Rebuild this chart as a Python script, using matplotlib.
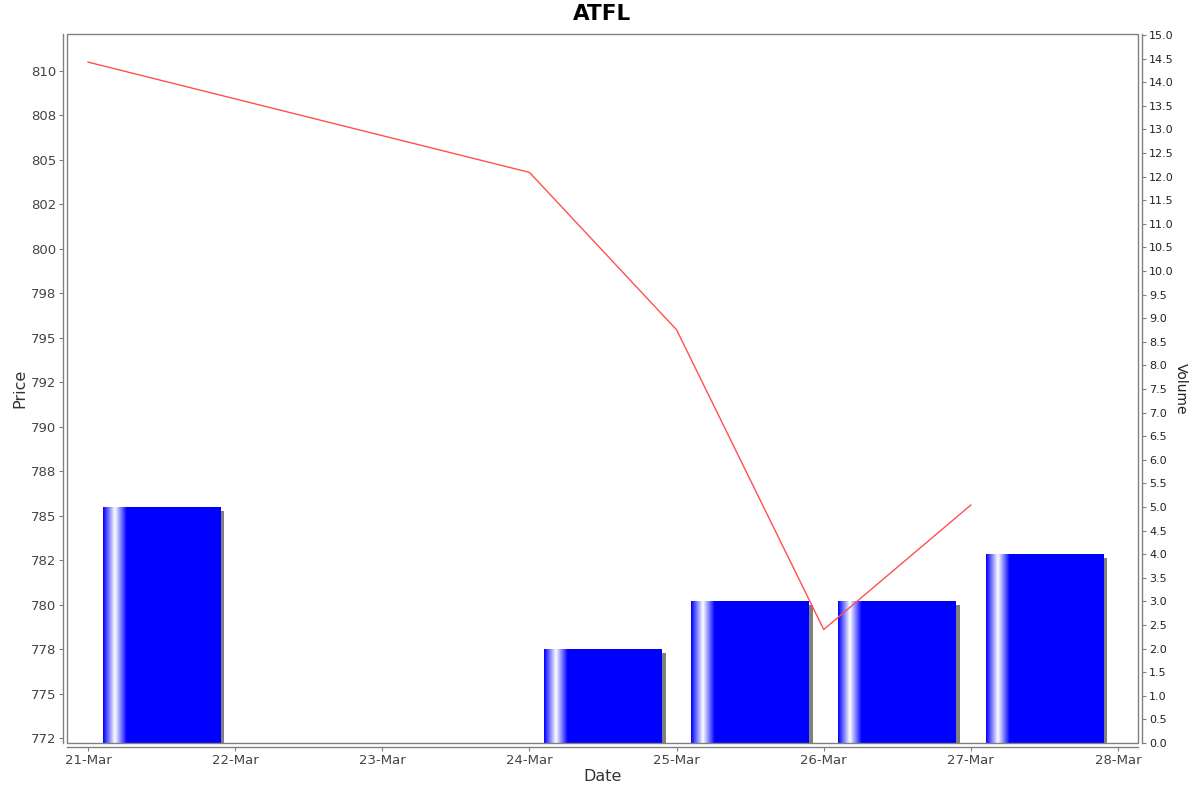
import datetime as dt

import matplotlib

matplotlib.use("Agg")

import matplotlib.dates as mdates
import matplotlib.pyplot as plt
import matplotlib.transforms as mtransforms
import numpy as np
from matplotlib.colors import LinearSegmentedColormap
from matplotlib.patches import Rectangle

TITLE = "ATFL"

price_dates = ["2024-03-21", "2024-03-24", "2024-03-25", "2024-03-26", "2024-03-27"]
prices = [810.5, 804.3, 795.45, 778.6, 785.6]

volume_dates = ["2024-03-21", "2024-03-24", "2024-03-25", "2024-03-26", "2024-03-27"]
volumes = [5, 2, 3, 3, 4]

price_ticks = [772.5, 775, 777.5, 780, 782.5, 785, 787.5, 790, 792.5, 795,
               797.5, 800, 802.5, 805, 807.5, 810]
price_tick_labels = ["772", "775", "778", "780", "782", "785", "788", "790",
                     "792", "795", "798", "800", "802", "805", "808", "810"]
volume_ticks = [0.0, 0.5, 1.0, 1.5, 2.0, 2.5, 3.0, 3.5, 4.0, 4.5, 5.0, 5.5,
                6.0, 6.5, 7.0, 7.5, 8.0, 8.5, 9.0, 9.5, 10.0, 10.5, 11.0,
                11.5, 12.0, 12.5, 13.0, 13.5, 14.0, 14.5, 15.0]
date_ticks = ["2024-03-21", "2024-03-22", "2024-03-23", "2024-03-24",
              "2024-03-25", "2024-03-26", "2024-03-27", "2024-03-28"]


def to_num(days):
    return [mdates.date2num(dt.datetime.strptime(d, "%Y-%m-%d")) for d in days]


GREY = "#808080"
TICK_TEXT = "#444444"

fig = plt.figure(figsize=(12, 7.92), dpi=100)
ax = fig.add_axes([67 / 1200, 1 - 743 / 792, (1138 - 67) / 1200, (743 - 34) / 792])
ax2 = ax.twinx()

# volume bars with shadow and gradient (drawn on the right axis)
bar_x = [x + 0.1 for x in to_num(volume_dates)]
bar_w = 0.8
shadow = mtransforms.offset_copy(ax2.transData, fig=fig, x=4, y=-4, units="dots")
ax2.bar(bar_x, volumes, width=bar_w, align="edge", color=GREY,
        transform=shadow, zorder=1)
bars = ax2.bar(bar_x, volumes, width=bar_w, align="edge", color="#0000ff",
               zorder=2)

cmap = LinearSegmentedColormap.from_list(
    "bar", [(0.0, "#0000ff"), (0.1, "#ffffff"), (0.2, "#0000ff"), (1.0, "#0000ff")]
)
grad = np.linspace(0, 1, 256).reshape(1, -1)
for x0, v, rect in zip(bar_x, volumes, bars):
    im = ax2.imshow(grad, cmap=cmap, aspect="auto",
                    extent=(x0, x0 + bar_w, 0, v), zorder=3,
                    interpolation="bilinear")
    im.set_clip_path(rect)

# price line on top
ax.set_zorder(ax2.get_zorder() + 1)
ax.patch.set_visible(False)
ax.plot(to_num(price_dates), prices, color="#ff5050", linewidth=1.0)

date_nums = to_num(date_ticks)
ax.set_xlim(date_nums[0] - 0.143, date_nums[-1] + 0.136)
ax.set_ylim(772.22, 812.08)
ax2.set_ylim(0, 15.02)

ax.set_yticks(price_ticks)
ax.set_yticklabels(price_tick_labels)
ax2.set_yticks(volume_ticks)
ax2.set_yticklabels([f"{v:.1f}" for v in volume_ticks])
ax.set_xticks(date_nums)
ax.set_xticklabels([mdates.num2date(x).strftime("%d-%b") for x in date_nums])

for a in (ax, ax2):
    for side in ("top", "left", "right", "bottom"):
        a.spines[side].set_visible(False)

ax.spines["left"].set_visible(True)
ax.spines["left"].set_position(("outward", 2.88))
ax.spines["bottom"].set_visible(True)
ax.spines["bottom"].set_position(("outward", 2.88))
ax2.spines["right"].set_visible(True)
ax2.spines["right"].set_position(("outward", 2.88))
for s in (ax.spines["left"], ax.spines["bottom"], ax2.spines["right"]):
    s.set_color(GREY)
    s.set_linewidth(1.0)

ax.add_patch(Rectangle((0, 0), 1, 1, transform=ax.transAxes, fill=False,
                       edgecolor=GREY, linewidth=1.0, clip_on=False, zorder=10))

ax.tick_params(axis="y", colors=GREY, labelcolor=TICK_TEXT, labelsize=9.5,
               length=3, width=0.8, pad=2)
ax.tick_params(axis="x", colors=GREY, labelcolor=TICK_TEXT, labelsize=9.5,
               length=3, width=0.8, pad=2)
ax2.tick_params(axis="y", colors=GREY, labelcolor="#222222", labelsize=8,
                length=3, width=0.8, pad=2)

ax.set_ylabel("Price", fontsize=11.5, color="#333333", labelpad=2.5)
ax.set_xlabel("Date", fontsize=11.5, color="#333333", labelpad=1.5)
ax2.set_ylabel("Volume", fontsize=10, color="#222222", rotation=270, labelpad=10.5)
ax.set_title(TITLE, fontsize=15.5, fontweight="bold", pad=10)

fig.savefig("out.png", dpi=100)
